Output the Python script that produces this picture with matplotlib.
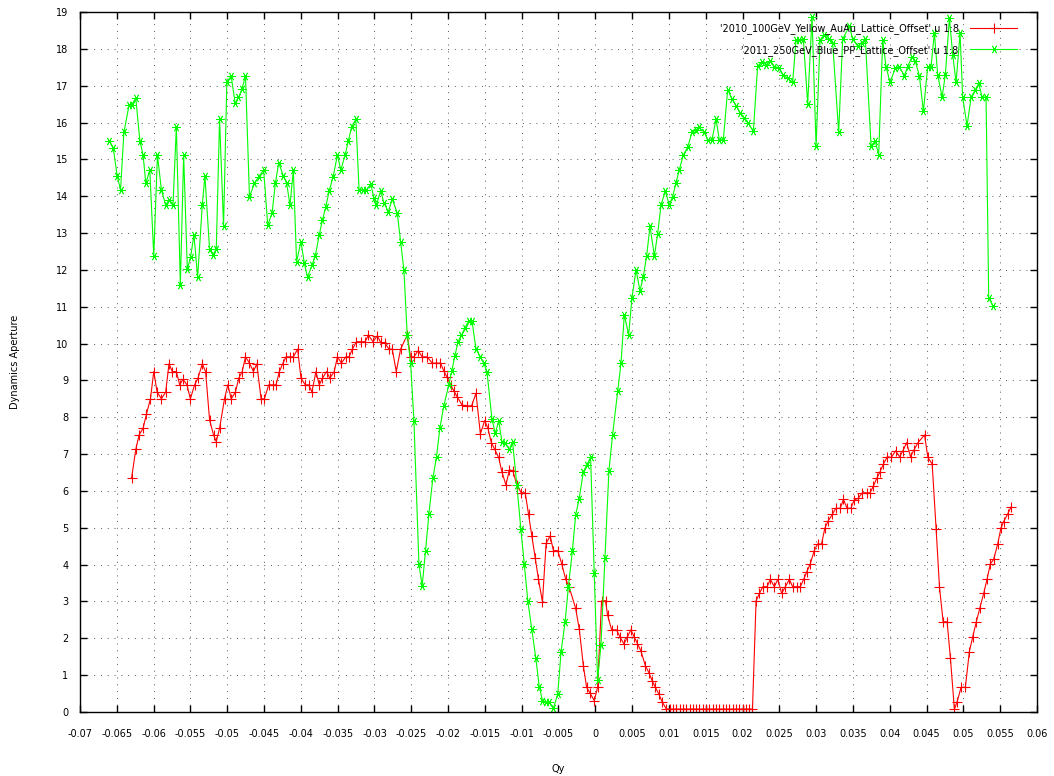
import numpy as np
import matplotlib
matplotlib.use("Agg")
import matplotlib.pyplot as plt
from matplotlib.ticker import MultipleLocator, FuncFormatter

# ---------------------------------------------------------------- data -----
# '2010_100GeV_Yellow_AuAu_Lattice_Offset' u 1:8
qy_yellow = [
    -0.063, -0.06242, -0.06197, -0.06143, -0.06097, -0.06043, -0.05998, -0.05953,
    -0.05894, -0.05836, -0.05791, -0.05746, -0.05691, -0.05646, -0.05601, -0.05547,
    -0.05501, -0.05443, -0.05398, -0.05339, -0.05294, -0.0524, -0.05186, -0.05149,
    -0.05104, -0.05037, -0.04992, -0.04946, -0.04888, -0.04843, -0.04797, -0.04752,
    -0.04698, -0.04644, -0.04599, -0.0454, -0.04495, -0.04437, -0.04383, -0.04337,
    -0.04292, -0.04247, -0.04201, -0.04147, -0.04102, -0.04044, -0.03998, -0.0394,
    -0.03895, -0.03849, -0.03795, -0.0375, -0.03706, -0.03651, -0.03606, -0.03547,
    -0.03503, -0.03448, -0.03389, -0.03344, -0.033, -0.03245, -0.03186, -0.03127,
    -0.03083, -0.03019, -0.02961, -0.02915, -0.02857, -0.02803, -0.02758, -0.02704,
    -0.02645, -0.02555, -0.02509, -0.02464, -0.02406, -0.02352, -0.02284, -0.02216,
    -0.02162, -0.02103, -0.02058, -0.02013, -0.01967, -0.01923, -0.01878, -0.0181,
    -0.01742, -0.0168, -0.01621, -0.01561, -0.01503, -0.01458, -0.01413, -0.01367,
    -0.01313, -0.01269, -0.01214, -0.01168, -0.0112, -0.01066, -0.01006, -0.00952,
    -0.00907, -0.00862, -0.00816, -0.00772, -0.00718, -0.00668, -0.00613, -0.00569,
    -0.0051, -0.00456, -0.00402, -0.00356, -0.00267, -0.00217, -0.00162, -0.00118,
    -0.00072, -0.00014, 0.00031, 0.00085, 0.00139, 0.00167, 0.00221, 0.00288,
    0.00334, 0.00389, 0.00437, 0.00483, 0.00528, 0.00573, 0.00619, 0.00681,
    0.00727, 0.00772, 0.00816, 0.00862, 0.00907, 0.00965, 0.0101, 0.01055,
    0.011, 0.01145, 0.0119, 0.01235, 0.0128, 0.01325, 0.0137, 0.01415,
    0.0146, 0.01505, 0.0155, 0.01595, 0.0164, 0.01685, 0.0173, 0.01775,
    0.0182, 0.01865, 0.0191, 0.01955, 0.02, 0.02045, 0.0209, 0.02135,
    0.02184, 0.0223, 0.02275, 0.02333, 0.02378, 0.02432, 0.02478, 0.02532,
    0.02582, 0.02636, 0.02681, 0.02739, 0.02785, 0.0283, 0.02874, 0.0292,
    0.02974, 0.03019, 0.03073, 0.03118, 0.03164, 0.03222, 0.03267, 0.03327,
    0.03371, 0.0342, 0.03471, 0.03516, 0.0357, 0.03628, 0.03687, 0.03732,
    0.03777, 0.03822, 0.03868, 0.03913, 0.03967, 0.04021, 0.04079, 0.04134,
    0.04179, 0.04228, 0.04282, 0.04328, 0.04383, 0.04472, 0.04518, 0.04576,
    0.0463, 0.04675, 0.04725, 0.04779, 0.04824, 0.04878, 0.04915, 0.04969,
    0.05027, 0.05081, 0.05127, 0.05176, 0.05222, 0.05276, 0.05321, 0.05366,
    0.05411, 0.05466, 0.0551, 0.05547, 0.05601, 0.05646,
]
da_yellow = [
    6.34, 7.13, 7.52, 7.70, 8.09, 8.50, 9.24, 8.69,
    8.50, 8.69, 9.45, 9.24, 9.24, 8.88, 9.03, 8.88,
    8.50, 8.88, 9.06, 9.45, 9.24, 7.93, 7.52, 7.34,
    7.70, 8.50, 8.88, 8.50, 8.69, 9.06, 9.24, 9.64,
    9.47, 9.24, 9.45, 8.50, 8.50, 8.88, 8.88, 8.88,
    9.24, 9.45, 9.64, 9.64, 9.64, 9.85, 9.06, 8.88,
    8.88, 8.69, 9.24, 8.88, 9.06, 9.24, 9.06, 9.24,
    9.64, 9.47, 9.64, 9.64, 9.85, 10.05, 10.05, 10.05,
    10.23, 10.05, 10.21, 10.03, 10.01, 9.85, 9.85, 9.24,
    9.85, 10.23, 9.64, 9.64, 9.81, 9.64, 9.64, 9.47,
    9.47, 9.47, 9.26, 9.08, 8.88, 8.72, 8.56, 8.33,
    8.31, 8.31, 8.65, 7.55, 7.91, 7.70, 7.31, 7.13,
    6.91, 6.52, 6.16, 6.57, 6.55, 6.16, 5.95, 5.95,
    5.37, 4.78, 4.17, 3.60, 2.99, 4.58, 4.78, 4.38,
    4.38, 4.02, 3.60, 3.40, 2.81, 2.24, 1.25, 0.67,
    0.51, 0.31, 0.67, 3.02, 3.02, 2.63, 2.23, 2.23,
    2.04, 1.85, 2.04, 2.23, 2.04, 1.85, 1.66, 1.25,
    1.07, 0.85, 0.67, 0.49, 0.28, 0.08, 0.08, 0.08,
    0.08, 0.08, 0.08, 0.08, 0.08, 0.08, 0.08, 0.08,
    0.08, 0.08, 0.08, 0.08, 0.08, 0.08, 0.08, 0.08,
    0.08, 0.08, 0.08, 0.08, 0.08, 0.08, 0.08, 0.08,
    3.02, 3.22, 3.40, 3.40, 3.60, 3.40, 3.60, 3.22,
    3.40, 3.60, 3.40, 3.40, 3.40, 3.60, 3.81, 4.02,
    4.38, 4.56, 4.56, 4.99, 5.19, 5.37, 5.53, 5.53,
    5.77, 5.53, 5.53, 5.75, 5.80, 5.95, 5.95, 5.95,
    6.13, 6.34, 6.52, 6.73, 6.93, 6.91, 7.09, 6.93,
    7.09, 7.31, 6.93, 7.11, 7.31, 7.52, 6.91, 6.73,
    4.96, 3.40, 2.45, 2.45, 1.46, 0.07, 0.28, 0.67,
    0.67, 1.64, 2.04, 2.45, 2.81, 3.22, 3.60, 4.02,
    4.14, 4.56, 4.99, 5.17, 5.37, 5.56,
]

# '2011_250GeV_Blue_PP_Lattice_Offset' u 1:8
qy_blue = [
    -0.06603, -0.06549, -0.06495, -0.06449, -0.06404, -0.06332, -0.0630, -0.06242,
    -0.06187, -0.06143, -0.06106, -0.06052, -0.05998, -0.05948, -0.05894, -0.05836,
    -0.05791, -0.05737, -0.05691, -0.05637, -0.05592, -0.05542, -0.05497, -0.05452,
    -0.05402, -0.05339, -0.05303, -0.0524, -0.05195, -0.05149, -0.05104, -0.0505,
    -0.05005, -0.04946, -0.04892, -0.04847, -0.04802, -0.04752, -0.04698, -0.0463,
    -0.04572, -0.04505, -0.0445, -0.04391, -0.04346, -0.04301, -0.04238, -0.04193,
    -0.04147, -0.04102, -0.04058, -0.03998, -0.03953, -0.03909, -0.03849, -0.03804,
    -0.0375, -0.03706, -0.0366, -0.03615, -0.03561, -0.03503, -0.03457, -0.03398,
    -0.03354, -0.03308, -0.03253, -0.03209, -0.03155, -0.0311, -0.0305, -0.03006,
    -0.02975, -0.02915, -0.0287, -0.02812, -0.02758, -0.0269, -0.02645, -0.026,
    -0.02555, -0.02509, -0.02464, -0.02396, -0.02352, -0.02306, -0.02261, -0.02207,
    -0.02157, -0.02112, -0.02058, -0.0199, -0.0195, -0.01909, -0.01864, -0.01818,
    -0.01774, -0.0172, -0.01675, -0.01621, -0.01561, -0.01516, -0.01472, -0.01404,
    -0.01358, -0.01313, -0.01269, -0.01223, -0.01168, -0.01124, -0.01066, -0.01011,
    -0.00965, -0.00917, -0.00862, -0.00808, -0.00762, -0.00718, -0.00673, -0.00627,
    -0.00569, -0.0051, -0.00465, -0.0041, -0.00366, -0.00311, -0.00267, -0.00221,
    -0.00162, -0.00118, -0.00064, -0.00014, 0.00031, 0.00077, 0.00131, 0.00185,
    0.00235, 0.00303, 0.00349, 0.00394, 0.00453, 0.00498, 0.00553, 0.00607,
    0.00652, 0.00697, 0.00743, 0.00802, 0.00847, 0.00893, 0.00951, 0.01005,
    0.0105, 0.01096, 0.01141, 0.01196, 0.01254, 0.01313, 0.01368, 0.01404,
    0.01481, 0.01526, 0.01585, 0.0164, 0.01685, 0.01739, 0.01798, 0.01857,
    0.01912, 0.01966, 0.02024, 0.02079, 0.02147, 0.02205, 0.02265, 0.02319,
    0.02378, 0.02432, 0.02491, 0.02545, 0.02613, 0.02681, 0.02727, 0.02772,
    0.02826, 0.02885, 0.02944, 0.02999, 0.03053, 0.03111, 0.0317, 0.03224,
    0.03306, 0.0336, 0.03451, 0.03496, 0.03564, 0.03623, 0.03668, 0.03746,
    0.03804, 0.03849, 0.03904, 0.03949, 0.04004, 0.04076, 0.0413, 0.04198,
    0.04243, 0.04303, 0.04348, 0.04402, 0.04457, 0.04515, 0.04561, 0.04606,
    0.04651, 0.04711, 0.04755, 0.0481, 0.04855, 0.04901, 0.04955, 0.0499,
    0.0505, 0.05105, 0.05163, 0.05208, 0.05254, 0.05308, 0.05344, 0.05398,
]
da_blue = [
    15.51, 15.32, 14.55, 14.17, 15.73, 16.48, 16.48, 16.66,
    15.51, 15.12, 14.35, 14.71, 12.38, 15.12, 14.17, 13.76,
    13.90, 13.76, 15.89, 11.59, 15.12, 12.02, 12.36, 12.95,
    11.80, 13.76, 14.55, 12.56, 12.41, 12.56, 16.09, 13.19,
    17.11, 17.26, 16.52, 16.68, 16.90, 17.26, 13.99, 14.35,
    14.53, 14.71, 13.22, 13.54, 14.35, 14.91, 14.55, 14.35,
    13.76, 14.71, 12.22, 12.77, 12.18, 11.80, 12.13, 12.38,
    12.95, 13.36, 13.72, 14.15, 14.53, 15.12, 14.71, 15.12,
    15.51, 15.89, 16.09, 14.17, 14.17, 14.17, 14.33, 13.94,
    13.76, 14.15, 13.81, 13.58, 13.92, 13.54, 12.77, 12.00,
    10.23, 9.47, 7.91, 4.02, 3.42, 4.38, 5.37, 6.34,
    6.93, 7.70, 8.31, 8.88, 9.25, 9.66, 10.05, 10.23,
    10.41, 10.62, 10.62, 9.85, 9.64, 9.47, 9.24, 7.95,
    7.56, 7.91, 7.34, 7.31, 7.13, 7.34, 6.16, 4.96,
    4.02, 3.02, 2.24, 1.46, 0.69, 0.31, 0.28, 0.28,
    0.10, 0.49, 1.64, 2.45, 3.40, 4.38, 5.35, 5.77,
    6.52, 6.70, 6.91, 3.78, 0.87, 1.82, 4.17, 6.55,
    7.53, 8.70, 9.47, 10.78, 10.24, 11.24, 12.00, 11.44,
    11.81, 12.38, 13.18, 12.38, 12.98, 13.77, 14.13, 13.77,
    13.99, 14.36, 14.72, 15.12, 15.33, 15.73, 15.80, 15.88,
    15.73, 15.53, 15.53, 16.09, 15.53, 15.53, 16.89, 16.64,
    16.46, 16.26, 16.12, 15.98, 15.76, 17.54, 17.63, 17.57,
    17.68, 17.52, 17.48, 17.29, 17.20, 17.09, 18.24, 18.24,
    18.26, 16.51, 18.86, 15.35, 18.24, 18.38, 18.26, 18.17,
    15.73, 18.26, 18.62, 18.26, 18.08, 18.17, 18.26, 15.37,
    15.49, 15.12, 18.24, 17.52, 17.09, 17.48, 17.52, 17.27,
    17.52, 17.79, 17.66, 17.27, 16.30, 17.52, 17.52, 18.44,
    17.30, 16.69, 17.30, 18.83, 17.84, 17.09, 18.43, 16.69,
    15.91, 16.69, 16.89, 17.07, 16.69, 16.69, 11.24, 11.03,
]

label_yellow = "'2010_100GeV_Yellow_AuAu_Lattice_Offset' u 1:8"
label_blue = "'2011_250GeV_Blue_PP_Lattice_Offset' u 1:8"


def fmt_x(v, pos):
    v = round(v, 4)
    if abs(v) < 1e-9:
        return '0'
    return '%g' % v


# ---------------------------------------------------------------- plot -----
plt.rcParams['font.family'] = ['DejaVu Sans']
plt.rcParams['axes.unicode_minus'] = False

fig = plt.figure(figsize=(10.54, 7.76), dpi=100)
ax = fig.add_axes([80 / 1054, 1 - 712 / 776, (1037 - 80) / 1054, (712 - 12) / 776])

ax.plot(qy_yellow, da_yellow, color='#ff0000', lw=0.8, marker='+',
        ms=7, mew=0.8, label=label_yellow)
ax.plot(qy_blue, da_blue, color='#00ff00', lw=0.8, marker=(6, 2, 90),
        ms=6, mew=0.6, label=label_blue)

ax.set_xlim(-0.07, 0.06)
ax.set_ylim(0, 19)
ax.xaxis.set_major_locator(MultipleLocator(0.005))
ax.yaxis.set_major_locator(MultipleLocator(1))
ax.xaxis.set_major_formatter(FuncFormatter(fmt_x))
ax.yaxis.set_major_formatter(FuncFormatter(lambda v, p: '%d' % round(v)))

ax.grid(True, color='#555555', lw=0.7, linestyle=(0, (1, 6)))
ax.tick_params(direction='in', length=5, width=1, top=True, right=True,
               labelsize=7)
ax.tick_params(axis='x', pad=12)
ax.tick_params(axis='y', pad=8.5)
for s in ax.spines.values():
    s.set_linewidth(1.0)

ax.set_xlabel('Qy', fontsize=7, labelpad=18)
ax.set_ylabel('Dynamics Aperture', fontsize=7, labelpad=26)

ax.legend(loc='upper right', bbox_to_anchor=(0.979, 0.984), frameon=False,
          markerfirst=False, fontsize=7, handlelength=4.8, handletextpad=1.2,
          labelspacing=1.1, borderpad=0, borderaxespad=0)

fig.savefig('out.png', dpi=100)
